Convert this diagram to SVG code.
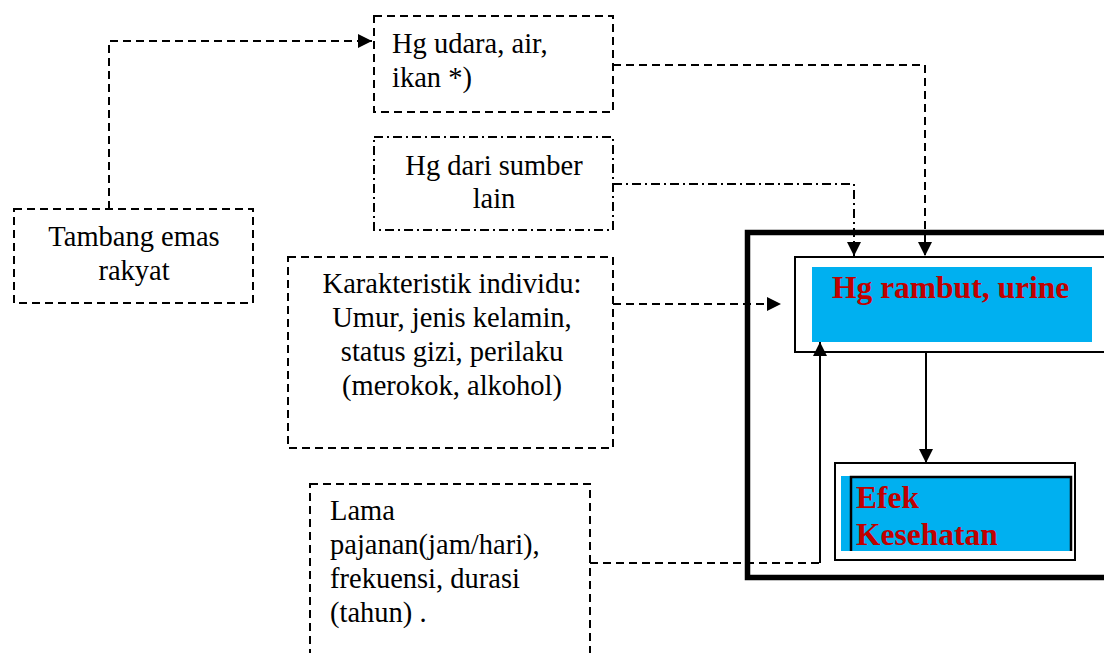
<svg xmlns="http://www.w3.org/2000/svg" width="1104" height="653" viewBox="0 0 1104 653">
<style>
text{font-family:'Liberation Serif','Times New Roman',Tinos,'DejaVu Serif',serif}
.t{font-size:28.5px;fill:#000}
.b{font-size:31.5px;font-weight:bold;fill:#C00000}
.dash{fill:none;stroke:#000;stroke-width:2;stroke-dasharray:8 5}
.dd{fill:none;stroke:#000;stroke-width:2;stroke-dasharray:9 4 2 4}
.solid{fill:none;stroke:#000;stroke-width:2}
</style>
<defs>
<marker id="ah" viewBox="0 0 10 10" refX="10" refY="5" markerWidth="15" markerHeight="14" orient="auto" markerUnits="userSpaceOnUse">
<path d="M0,0 L10,5 L0,10 z" fill="#000"/>
</marker>
</defs>
<rect width="1104" height="653" fill="#fff"/>

<g id="outer-frame">
<rect x="747.5" y="232.5" width="370" height="345" fill="none" stroke="#000" stroke-width="5.5"/>
</g>

<g id="tambang">
<rect x="14" y="209" width="239" height="94" class="dash"/>
<text class="t" x="134" y="246" text-anchor="middle" font-family="Liberation Serif">Tambang emas</text>
<text class="t" x="134" y="280" text-anchor="middle" font-family="Liberation Serif">rakyat</text>
</g>

<g id="hg-udara">
<rect x="374" y="16" width="239" height="96" class="dash"/>
<text class="t" x="392" y="53">Hg udara, air,</text>
<text class="t" x="392" y="87">ikan *)</text>
</g>

<g id="hg-sumber">
<rect x="374" y="137" width="239" height="93" class="dd"/>
<text class="t" x="494" y="175" text-anchor="middle">Hg dari sumber</text>
<text class="t" x="494" y="208" text-anchor="middle">lain</text>
</g>

<g id="karakteristik">
<rect x="288" y="257" width="325" height="191" class="dash"/>
<text class="t" x="452" y="293" text-anchor="middle">Karakteristik individu:</text>
<text class="t" x="452" y="327" text-anchor="middle">Umur, jenis kelamin,</text>
<text class="t" x="452" y="361" text-anchor="middle">status gizi, perilaku</text>
<text class="t" x="452" y="395" text-anchor="middle">(merokok, alkohol)</text>
</g>

<g id="lama">
<rect x="310" y="484" width="280" height="190" class="dash"/>
<text class="t" x="330" y="520">Lama</text>
<text class="t" x="330" y="554">pajanan(jam/hari),</text>
<text class="t" x="330" y="588">frekuensi, durasi</text>
<text class="t" x="330" y="622">(tahun) .</text>
</g>

<g id="hg-rambut">
<rect x="795" y="257" width="320" height="95" fill="#fff" stroke="#000" stroke-width="2"/>
<rect x="812" y="267" width="280" height="75" fill="#00B0F0"/>
<text class="b" x="832" y="298">Hg rambut, urine</text>
</g>

<g id="efek">
<rect x="835" y="463" width="240" height="97" fill="#fff" stroke="#000" stroke-width="2"/>
<rect x="841" y="476" width="231" height="75" fill="#00B0F0"/>
<path d="M851,551 V477 H1071 V551" fill="none" stroke="#000" stroke-width="2.5"/>
<text class="b" x="856" y="508">Efek</text>
<text class="b" x="856" y="545">Kesehatan</text>
</g>

<g id="connectors">
<path d="M109,209 V41 H372" class="dash" marker-end="url(#ah)"/>
<path d="M613,65 H925 V256" class="dash" marker-end="url(#ah)"/>
<path d="M613,184 H854 V256" class="dd" marker-end="url(#ah)"/>
<path d="M613,304 H781" class="dash" marker-end="url(#ah)"/>
<path d="M590,563 H820" class="dash"/>
<path d="M820,563 V342" class="solid" marker-end="url(#ah)"/>
<path d="M926,352 V463" class="solid" marker-end="url(#ah)"/>
</g>
</svg>
